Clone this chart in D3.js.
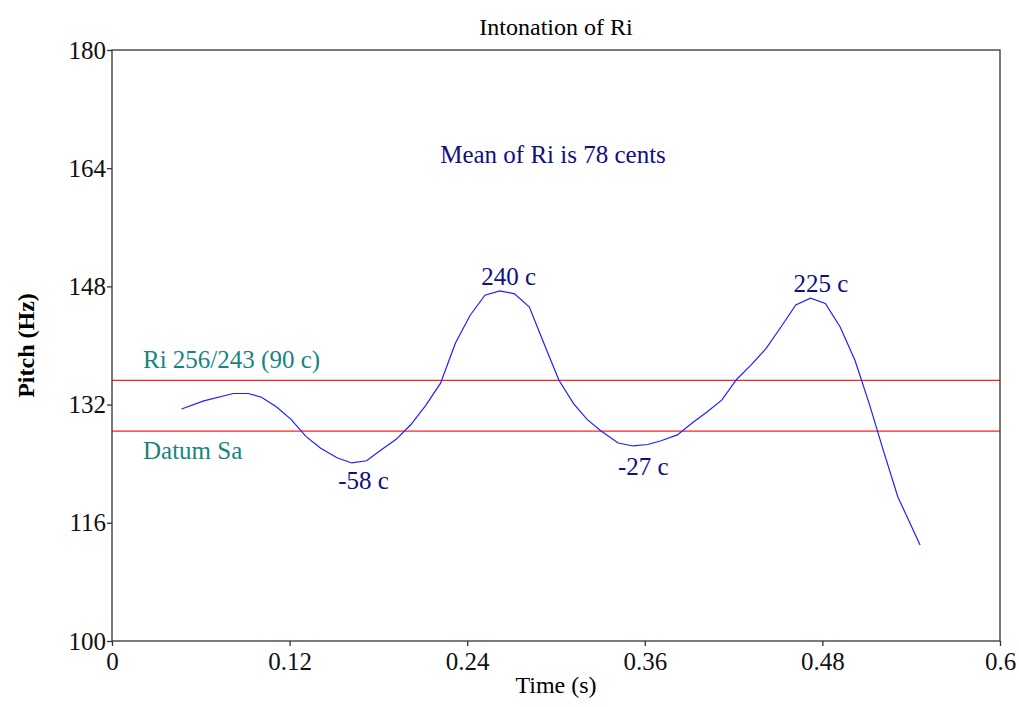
<!DOCTYPE html>
<html>
  <head>
    <script src="https://d3js.org/d3.v7.min.js"></script>
    <style>
      body { margin: 0; background: #fff; }
      text { font-family: "Liberation Serif", "Times New Roman", serif; }
    </style>
  </head>
  <body>
    <script>

// pitch track
const times = [0.047, 0.062, 0.082, 0.092, 0.101, 0.111, 0.121, 0.131, 0.141, 0.152,
               0.162, 0.172, 0.182, 0.192, 0.202, 0.212, 0.222, 0.232, 0.242, 0.252,
               0.262, 0.272, 0.282, 0.292, 0.302, 0.312, 0.321, 0.330, 0.342, 0.352,
               0.362, 0.371, 0.382, 0.392, 0.402, 0.412, 0.422, 0.432, 0.442, 0.452,
               0.462, 0.472, 0.482, 0.492, 0.502, 0.512, 0.521, 0.531, 0.546];
const pitch = [131.4, 132.5, 133.5, 133.5, 133.0, 131.7, 130.0, 127.7, 126.1, 124.8,
               124.1, 124.4, 125.9, 127.3, 129.3, 131.9, 134.9, 140.3, 144.1, 146.8,
               147.4, 147.0, 145.2, 140.2, 135.3, 132.1, 130.0, 128.5, 126.8, 126.4,
               126.6, 127.1, 127.9, 129.5, 131.0, 132.6, 135.4, 137.4, 139.6, 142.5,
               145.5, 146.4, 145.7, 142.5, 138.0, 131.9, 125.9, 119.5, 113.0];

const saHz = 128.4;
const riHz = saHz * 256 / 243;

const xTicks = [0, 0.12, 0.24, 0.36, 0.48, 0.6];
const yTicks = [100, 116, 132, 148, 164, 180];

const notes = [
  { t: 0.268, hz: 147.4, label: "240 c", dy: -6 },
  { t: 0.170, hz: 124.1, label: "-58 c", dy: 26 },
  { t: 0.359, hz: 126.4, label: "-27 c", dy: 29 },
  { t: 0.479, hz: 146.4, label: "225 c", dy: -6 }
];

const width = 1019, height = 707;
const margin = { top: 50, right: 19, bottom: 66, left: 112 };

const x = d3.scaleLinear().domain([0, 0.6]).range([margin.left, width - margin.right]);
const y = d3.scaleLinear().domain([100, 180]).range([height - margin.bottom, margin.top]);

const svg = d3.select("body").append("svg")
    .attr("width", width)
    .attr("height", height)
    .attr("font-size", 25);

// reference lines
svg.selectAll("line.ref")
  .data([saHz, riHz])
  .enter().append("line")
    .attr("class", "ref")
    .attr("x1", x(0)).attr("x2", x(0.6))
    .attr("y1", d => y(d)).attr("y2", d => y(d))
    .attr("stroke", "#ff2020")
    .attr("stroke-width", 1.2);

// pitch curve
const line = d3.line().x((d, i) => x(times[i])).y(d => y(d));
svg.append("path")
    .datum(pitch)
    .attr("d", line)
    .attr("fill", "none")
    .attr("stroke", "#1f1fff")
    .attr("stroke-width", 1.2);

// frame
svg.append("rect")
    .attr("x", x(0)).attr("y", y(180))
    .attr("width", x(0.6) - x(0))
    .attr("height", y(100) - y(180))
    .attr("fill", "none")
    .attr("stroke", "#333")
    .attr("stroke-width", 1.3);

const xAxis = svg.append("g")
    .attr("transform", `translate(0,${y(100)})`)
    .call(d3.axisBottom(x).tickValues(xTicks).tickSize(5).tickPadding(6).tickFormat(d => d));
const yAxis = svg.append("g")
    .attr("transform", `translate(${x(0)},0)`)
    .call(d3.axisLeft(y).tickValues(yTicks).tickSize(5).tickPadding(1));

[xAxis, yAxis].forEach(g => {
  g.select(".domain").remove();
  g.selectAll("line").attr("stroke", "#333").attr("stroke-width", 1.3);
  g.selectAll("text")
    .attr("font-family", "Liberation Serif, serif")
    .attr("font-size", 25)
    .attr("fill", "#111");
});

// titles
svg.append("text")
    .attr("x", x(0.3)).attr("y", 35)
    .attr("text-anchor", "middle")
    .attr("font-size", 24)
    .text("Intonation of Ri");

svg.append("text")
    .attr("x", x(0.3)).attr("y", 693)
    .attr("text-anchor", "middle")
    .attr("font-size", 24)
    .text("Time (s)");

svg.append("text")
    .attr("transform", `translate(34,${y(140)}) rotate(-90)`)
    .attr("text-anchor", "middle")
    .attr("font-size", 24)
    .attr("font-weight", "bold")
    .text("Pitch (Hz)");

// annotations
svg.append("text")
    .attr("x", 553).attr("y", 163)
    .attr("text-anchor", "middle")
    .attr("fill", "#10107f")
    .text("Mean of Ri is 78 cents");

svg.append("text")
    .attr("x", 143).attr("y", y(riHz) - 12)
    .attr("fill", "#16857f")
    .text("Ri 256/243 (90 c)");

svg.append("text")
    .attr("x", 143).attr("y", y(saHz) + 28)
    .attr("fill", "#16857f")
    .text("Datum Sa");

svg.selectAll("text.note")
  .data(notes)
  .enter().append("text")
    .attr("class", "note")
    .attr("x", d => x(d.t))
    .attr("y", d => y(d.hz) + d.dy)
    .attr("text-anchor", "middle")
    .attr("fill", "#10107f")
    .text(d => d.label);

    </script>
  </body>
</html>
